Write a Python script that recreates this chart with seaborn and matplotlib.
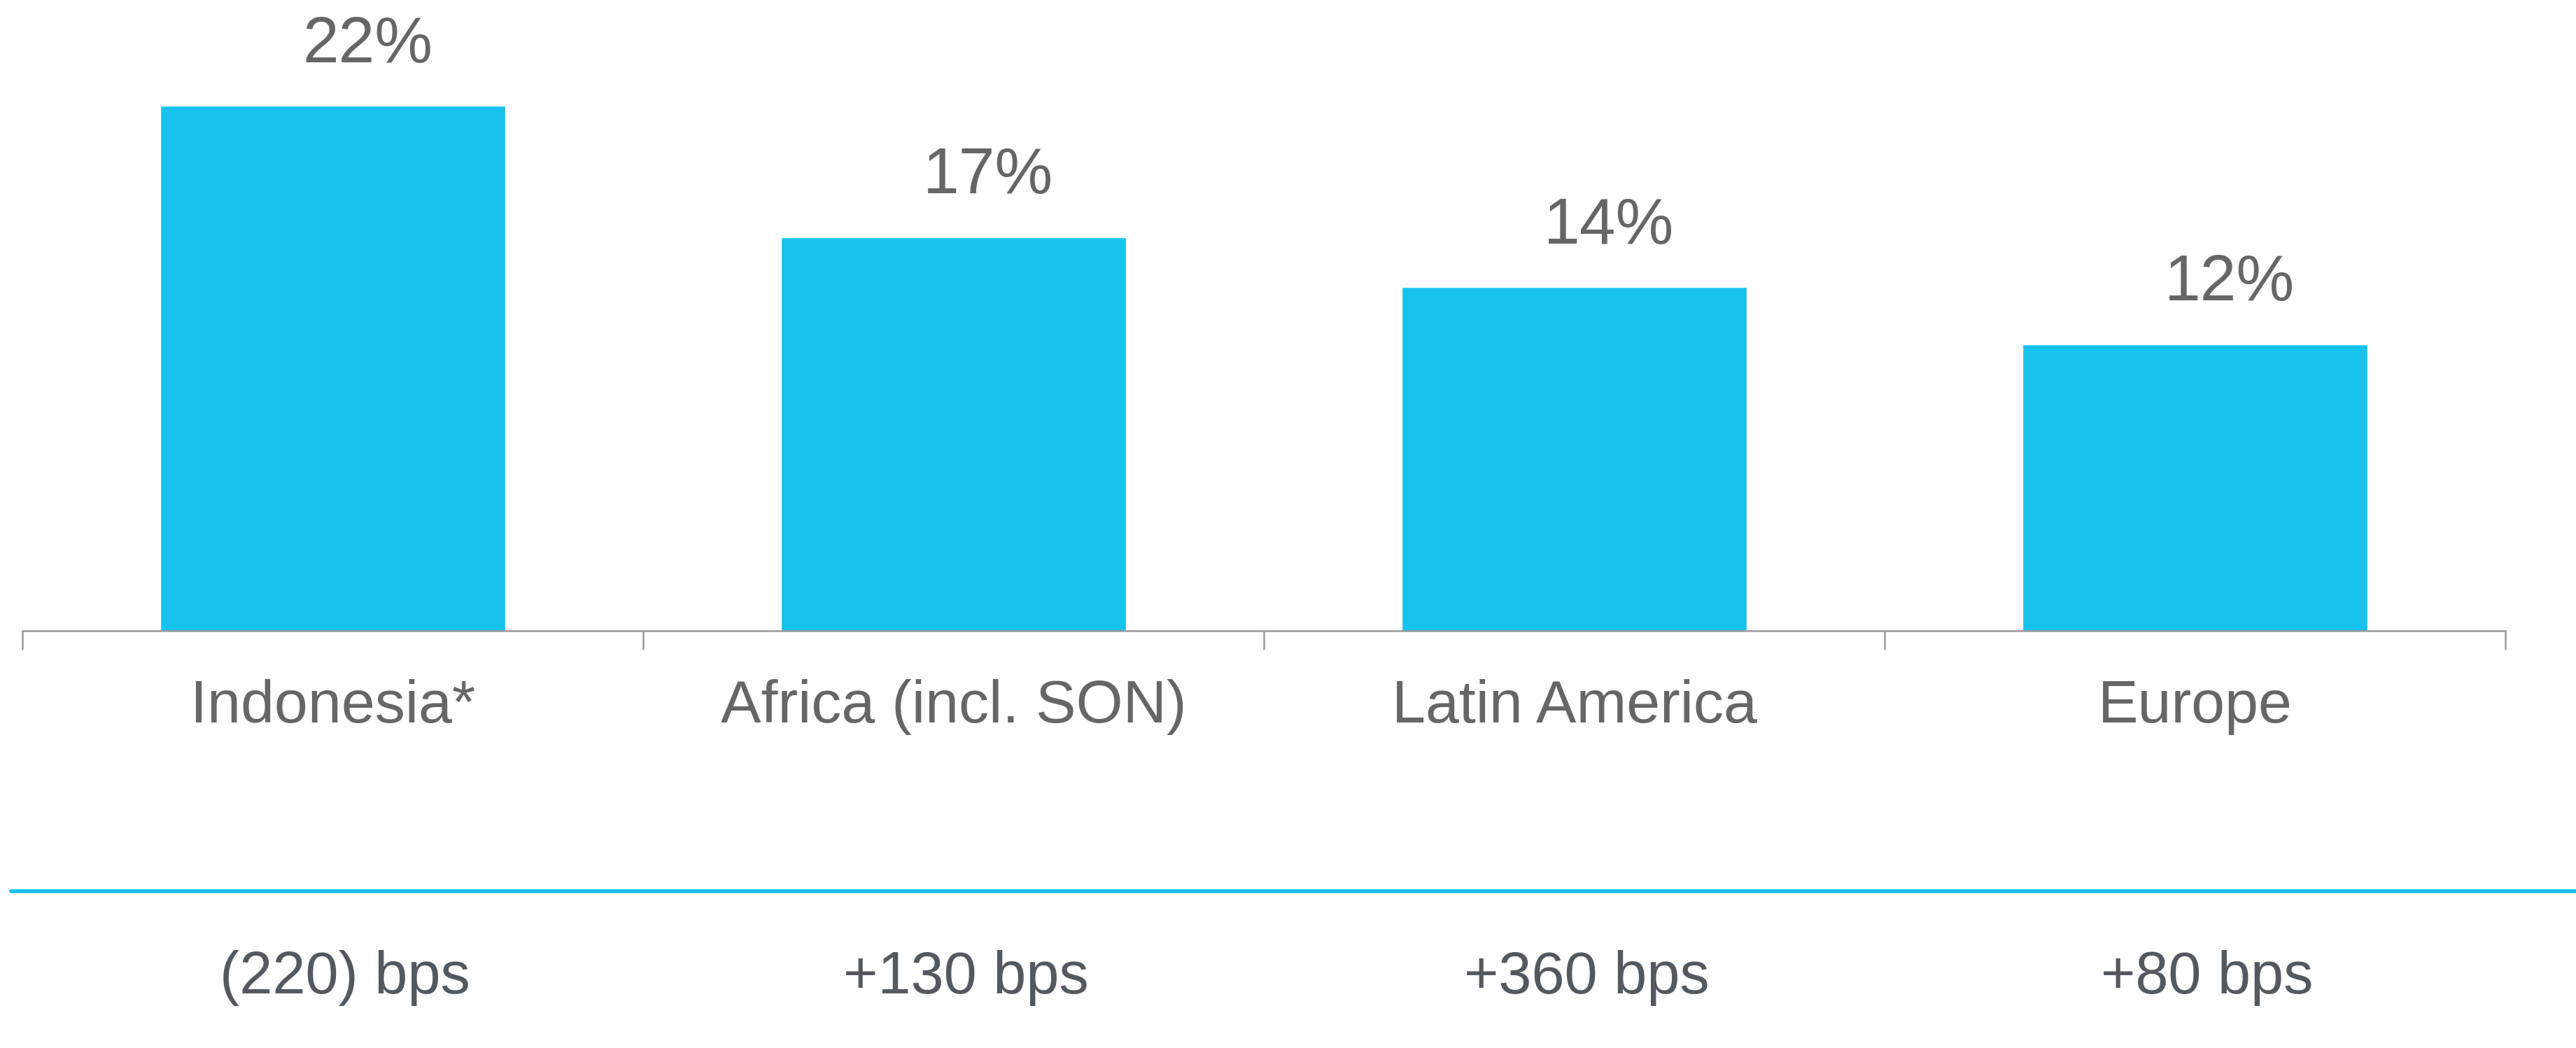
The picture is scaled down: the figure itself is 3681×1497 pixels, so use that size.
import numpy as np
import pandas as pd
import seaborn as sns
import matplotlib.pyplot as plt
from matplotlib.lines import Line2D
from matplotlib.transforms import blended_transform_factory


regions = ["Indonesia*", "Africa (incl. SON)", "Latin America", "Europe"]
margins = [22.0, 16.5, 14.4, 12.0]
margin_labels = ["22%", "17%", "14%", "12%"]
bps_change = ["(220) bps", "+130 bps", "+360 bps", "+80 bps"]

bar_blue = "#17c2ec"
grey_text = "#666666"
dark_text = "#54595f"
axis_grey = "#9a9a9a"

sns.set_style('white')
plt.rcParams['font.family'] = ['Liberation Sans', 'DejaVu Sans']

W, H = 3681, 1497
fig = plt.figure(figsize=(W / 100, H / 100), dpi=100)

# bar area: baseline at 901 px from top, axis runs 32..3580 px
ax = fig.add_axes([32 / W, 1 - 901 / H, 3548 / W, 901 / H])

df = pd.DataFrame({"region": regions, "margin": margins})
sns.barplot(data=df, x="region", y="margin", color=bar_blue, saturation=1,
            width=0.556, ax=ax)

ax.set_xlim(-0.5, 3.5)
ax.set_ylim(0, 26.43)
ax.set_xlabel("")
ax.set_ylabel("")
ax.set_yticks([])
for side in ["top", "right", "left"]:
    ax.spines[side].set_visible(False)
ax.spines["bottom"].set_color(axis_grey)
ax.spines["bottom"].set_linewidth(1.8)

# category separators as minor ticks (seaborn white style switches ticks off)
ax.set_xticks(np.arange(-0.5, len(regions)), minor=True)
ax.tick_params(axis="x", which="both", bottom=True)
ax.tick_params(axis="x", which="minor", length=19.4, width=1.8,
               color=axis_grey, direction="out")
ax.set_xticks(range(len(regions)))
ax.set_xticklabels(regions, fontsize=62, color=grey_text)
ax.tick_params(axis="x", which="major", length=0, pad=94)
for lbl in ax.get_xticklabels():
    lbl.set_verticalalignment("baseline")

# value labels over bars
for i, (v, lab) in enumerate(zip(margins, margin_labels)):
    ax.annotate(lab, xy=(i, v), xytext=(36, 45), textcoords="offset points",
                ha="center", va="baseline", fontsize=67, color=grey_text)

# divider line and bps row
fig.add_artist(Line2D([16 / W, 1], [1 - 1273 / H] * 2, transform=fig.transFigure,
                      color=bar_blue, linewidth=4))
trans = blended_transform_factory(ax.transData, fig.transFigure)
for i, txt in enumerate(bps_change):
    ax.text(i + 0.02, 1 - 1419 / H, txt, transform=trans, ha="center",
            va="baseline", fontsize=61, color=dark_text, clip_on=False)

fig.savefig("out.png", dpi=100, facecolor="white")
